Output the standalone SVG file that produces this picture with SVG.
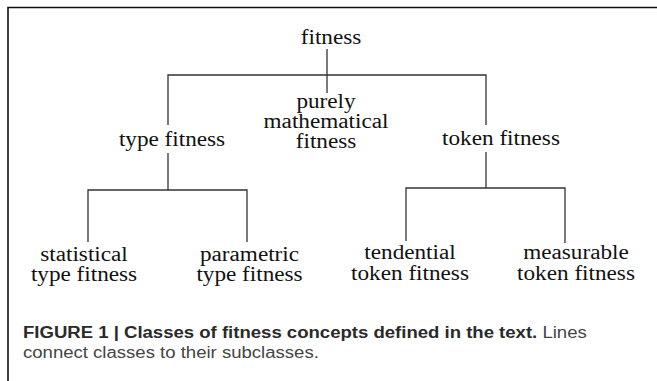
<svg xmlns="http://www.w3.org/2000/svg" width="657" height="381" viewBox="0 0 657 381">
<style>
.n{font-family:"Liberation Serif","Times New Roman",serif;font-size:20px;fill:#111;text-anchor:middle}
.c{stroke:#333;stroke-width:1.3;fill:none}
.cap{font-family:"Liberation Sans",Arial,sans-serif;font-size:16px;fill:#444}
</style>
<rect width="657" height="381" fill="#fff"/>
<path d="M8,381 V7.5 H657" stroke="#111" stroke-width="1.6" fill="none"/>
<g id="connectors">
<path class="c" d="M327,49 V93"/>
<path class="c" d="M168,125 V75 H486 V125"/>
<path class="c" d="M168,153 V190"/>
<path class="c" d="M88,242 V190 H247 V242"/>
<path class="c" d="M486,152 V188"/>
<path class="c" d="M406,241 V188 H565 V243"/>
</g>
<g id="fitness" transform="translate(331,44) scale(1.16,1)"><text class="n">fitness</text></g>
<g id="purely" transform="translate(326,0) scale(1.16,1)"><text class="n" y="108">purely</text><text class="n" y="128">mathematical</text><text class="n" y="148">fitness</text></g>
<g id="type" transform="translate(172,146) scale(1.16,1)"><text class="n">type fitness</text></g>
<g id="token" transform="translate(501,145) scale(1.16,1)"><text class="n">token fitness</text></g>
<g id="statistical" transform="translate(84,0) scale(1.16,1)"><text class="n" y="261">statistical</text><text class="n" y="281">type fitness</text></g>
<g id="parametric" transform="translate(249.5,0) scale(1.16,1)"><text class="n" y="261">parametric</text><text class="n" y="281">type fitness</text></g>
<g id="tendential" transform="translate(410,0) scale(1.16,1)"><text class="n" y="259">tendential</text><text class="n" y="280">token fitness</text></g>
<g id="measurable" transform="translate(576,0) scale(1.16,1)"><text class="n" y="259">measurable</text><text class="n" y="280">token fitness</text></g>
<g id="caption" transform="translate(23,0) scale(1.16,1)">
<text class="cap" y="338.5"><tspan font-weight="bold" fill="#2a2a2a">FIGURE 1 | Classes of fitness concepts defined in the text.</tspan> Lines</text>
<text class="cap" y="358.5">connect classes to their subclasses.</text>
</g>
</svg>
